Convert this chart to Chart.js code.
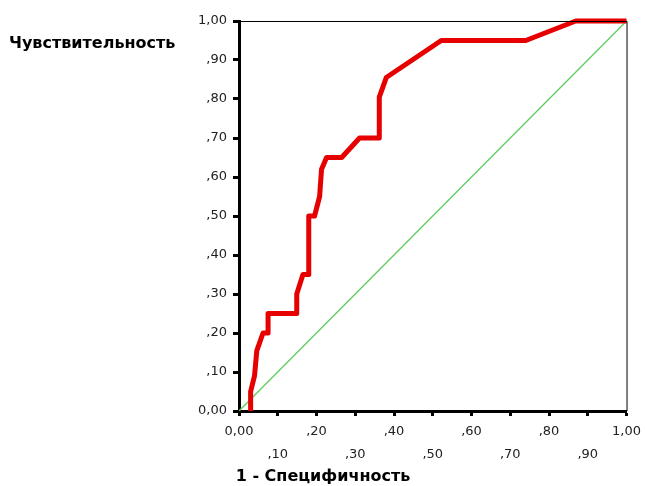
<!DOCTYPE html>
<html>
<head>
<meta charset="utf-8">
<script src="https://cdn.jsdelivr.net/npm/chart.js@4/dist/chart.umd.min.js"></script>
<style>
  html, body { margin: 0; padding: 0; background: #fff; }
  #wrap { width: 645px; height: 486px; }
</style>
</head>
<body>
<div id="wrap"><canvas id="roc"></canvas></div>
<script>
// ROC curve
const fpr = [0.03, 0.03, 0.04, 0.046, 0.062, 0.075, 0.075, 0.149, 0.149, 0.165, 0.18, 0.18, 0.195, 0.208, 0.213, 0.226, 0.265, 0.311, 0.362, 0.362, 0.38, 0.522, 0.74, 0.869, 1.0];
const tpr = [0.0, 0.05, 0.09, 0.155, 0.2, 0.2, 0.25, 0.25, 0.3, 0.35, 0.35, 0.5, 0.5, 0.55, 0.62, 0.65, 0.65, 0.7, 0.7, 0.805, 0.855, 0.95, 0.95, 1.0, 1.0];
const diagX = [0, 1];
const diagY = [0, 1];
const tickValues = [0, 0.1, 0.2, 0.3, 0.4, 0.5, 0.6, 0.7, 0.8, 0.9, 1.0];

const yTitle = 'Чувствительность';
const xTitle = '1 - Специфичность';

function fmt(v) {
    let s = v.toFixed(2).replace('.', ',');
    if (s.startsWith('0,') && v > 0.001) s = s.slice(1);
    return s;
}

const frame = {
    id: 'frame',
    afterDraw(chart) {
        const { ctx, chartArea: a } = chart;
        ctx.save();
        ctx.strokeStyle = '#000';
        ctx.lineWidth = 1;
        ctx.beginPath();
        ctx.moveTo(a.left, a.top + 0.5);
        ctx.lineTo(a.right + 0.5, a.top + 0.5);
        ctx.lineTo(a.right + 0.5, a.bottom);
        ctx.stroke();
        ctx.fillStyle = '#000';
        ctx.font = 'bold 16px "DejaVu Sans", sans-serif';
        ctx.textBaseline = 'middle';
        ctx.textAlign = 'left';
        ctx.fillText(yTitle, 9, 44);
        ctx.textAlign = 'center';
        ctx.fillText(xTitle, 323, 477);
        ctx.restore();
    }
};

new Chart(document.getElementById('roc'), {
    type: 'line',
    data: {
        datasets: [{
            data: fpr.map((x, i) => ({ x: x, y: tpr[i] })),
            borderColor: '#e60000',
            borderWidth: 5,
            pointRadius: 0,
            tension: 0,
            borderJoinStyle: 'round',
            clip: false
        }, {
            data: diagX.map((x, i) => ({ x: x, y: diagY[i] })),
            borderColor: '#5ccc5c',
            borderWidth: 1.3,
            pointRadius: 0
        }]
    },
    options: {
        responsive: true,
        maintainAspectRatio: false,
        animation: false,
        layout: { padding: { top: 21, right: 17, left: 0, bottom: 0 } },
        plugins: { legend: { display: false }, tooltip: { enabled: false } },
        scales: {
            x: {
                type: 'linear',
                min: 0, max: 1,
                afterFit: s => { s.height = 75; },
                afterBuildTicks: s => { s.ticks = tickValues.map(v => ({ value: v })); },
                ticks: {
                    color: '#222',
                    autoSkip: false,
                    maxRotation: 0,
                    padding: 4,
                    font: { family: '"DejaVu Sans", sans-serif', size: 13, lineHeight: 1.75 },
                    callback: (v, i) => i % 2 === 0 ? fmt(v) : ['', fmt(v)]
                },
                grid: { drawOnChartArea: false, color: '#000', tickLength: 5, tickWidth: 3 },
                border: { color: '#000', width: 3 }
            },
            y: {
                type: 'linear',
                min: 0, max: 1,
                afterFit: s => { s.width = 239; },
                afterBuildTicks: s => { s.ticks = tickValues.map(v => ({ value: v })); },
                ticks: {
                    color: '#222',
                    padding: 6,
                    font: { family: '"DejaVu Sans", sans-serif', size: 13 },
                    callback: v => fmt(v)
                },
                grid: { drawOnChartArea: false, color: '#000', tickLength: 6, tickWidth: 3 },
                border: { color: '#000', width: 3 }
            }
        }
    },
    plugins: [frame]
});
</script>
</body>
</html>
